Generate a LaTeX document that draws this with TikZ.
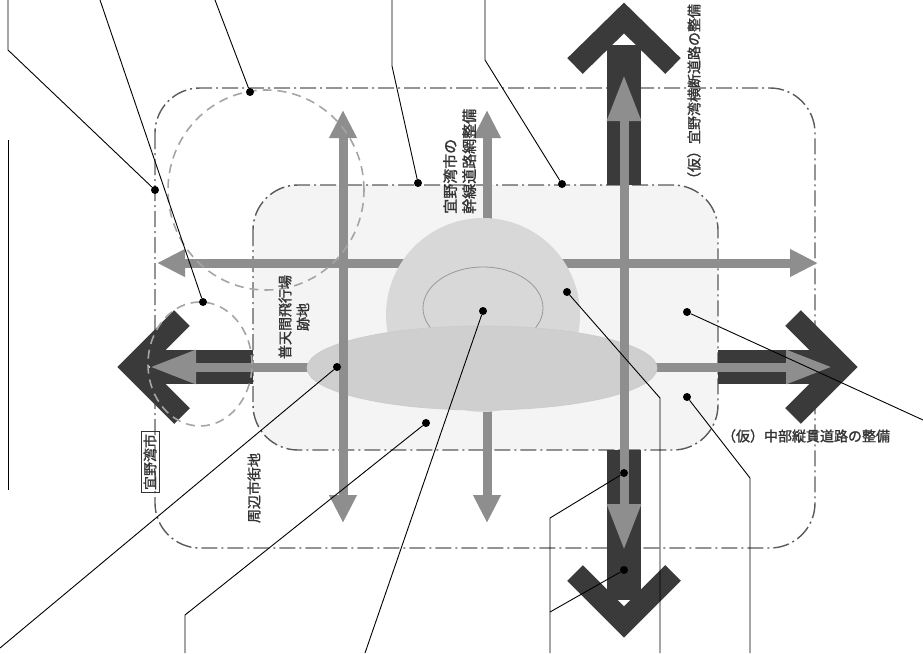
\documentclass[tikz,border=0pt]{standalone}
\usepackage{fontspec}
\newfontfamily\jpfont[FakeBold=1.5]{Noto Sans CJK JP}
\usetikzlibrary{arrows.meta}
\definecolor{darkarr}{HTML}{3A3A3A}
\definecolor{roadgray}{HTML}{8E8E8E}
\definecolor{blobgray}{HTML}{D8D8D8}
\definecolor{ellgray}{HTML}{CFCFCF}
\definecolor{rectline}{HTML}{5A5A5A}
\definecolor{dashgray}{HTML}{A5A5A5}
\definecolor{innerfill}{HTML}{F4F4F4}
\definecolor{txtgray}{HTML}{333333}
\tikzset{
  rrect/.style={draw=rectline, line width=1.4pt, dash pattern=on 16pt off 4pt on 2pt off 4pt, rounded corners=45pt},
  dcirc/.style={draw=dashgray, line width=1.6pt, dash pattern=on 9pt off 6pt},
  road/.style={draw=roadgray, line width=9pt},
  bigarr/.style={draw=darkarr, line width=34pt},
  chev/.style={draw=darkarr, line width=22pt, line join=miter},
  lead/.style={draw=black, line width=0.9pt},
  dot/.style={circle, fill=black, inner sep=0pt, minimum size=8pt},
  jtext/.style={text=txtgray, font=\jpfont\fontsize{14}{18}\selectfont, inner sep=0pt},
  sm/.tip={Triangle[width=26pt,length=28pt]},
  bg/.tip={Triangle[width=32pt,length=46pt]},
}
\begin{document}
\begin{tikzpicture}[x=1pt,y=-1pt]
\useasboundingbox (0,0) rectangle (923,653);
% areas
\fill[innerfill, rounded corners=45pt] (253,185) rectangle (718,450);
\draw[rrect] (155,88) rectangle (815,548);
\draw[rrect] (253,185) rectangle (718,450);
% dark arrows
\draw[bigarr] (624,185) -- (624,45);
\draw[chev] (575,66) -- (624,18) -- (673,66);
\draw[bigarr] (624,450) -- (624,600);
\draw[chev] (575,573) -- (624,622) -- (673,573);
\draw[bigarr] (253,367) -- (150,367);
\draw[chev] (182,318) -- (133,367) -- (182,416);
\draw[bigarr] (718,367) -- (825,367);
\draw[chev] (793,318) -- (842,367) -- (793,416);
% gray roads
\draw[road, sm-sm] (343,110) -- (343,523);
\draw[road, sm-sm] (487,110) -- (487,523);
\draw[road, bg-bg] (624,75) -- (624,550);
\draw[road, sm-sm] (157,263) -- (818,263);
\draw[road, bg-bg] (150,367) -- (832,367);
% central areas
\fill[blobgray] (483,315) circle[radius=97pt];
\draw[draw=gray!80, fill=blobgray, line width=0.8pt] (483,308) ellipse[x radius=60pt, y radius=41pt];
\draw[draw=gray!40, fill=ellgray, line width=0.8pt] (482,368) ellipse[x radius=175pt, y radius=42pt];
\draw[road] (343,335) -- (343,400);
\draw[road] (624,335) -- (624,400);
% dashed circles
\draw[dcirc] (266,190) ellipse[x radius=98pt, y radius=100pt];
\draw[dcirc] (200,364) ellipse[x radius=52pt, y radius=62pt];
% texts
\node[jtext, rotate=90, align=left, anchor=north west, font=\jpfont\fontsize{15}{19}\selectfont] (t1) at (443,214) {宜野湾市の\\幹線道路網整備};
\node[jtext, rotate=90, align=center] (t2) at (294,317) {普天間飛行場\\跡地};
\node[jtext, rotate=90] (t3) at (694,95) {（仮）宜野湾横断道路の整備};
\node[jtext] (t4) at (806,436) {（仮）中部縦貫道路の整備};
\node[jtext, rotate=90, draw=txtgray, line width=0.9pt, inner sep=2.5pt] (t5) at (150,462) {宜野湾市};
\node[jtext, rotate=90] (t6) at (254,488) {周辺市街地};
% dots
\node[dot] (d1) at (155,190) {};
\node[dot] (d2) at (203,302) {};
\node[dot] (d3) at (250,92) {};
\node[dot] (d4) at (418,183) {};
\node[dot] (d5) at (562,184) {};
\node[dot] (d6) at (337,367) {};
\node[dot] (d7) at (426,423) {};
\node[dot] (d8) at (483,311) {};
\node[dot] (d9) at (567,292) {};
\node[dot] (d10) at (624,473) {};
\node[dot] (d11) at (624,570) {};
\node[dot] (d12) at (687,397) {};
\node[dot] (d13) at (687,312) {};
% leader end points
\coordinate (e1a) at (8,0);   \coordinate (e1b) at (8,50);
\coordinate (e2) at (100,0);
\coordinate (e3) at (215,0);
\coordinate (e4a) at (392,0); \coordinate (e4b) at (392,66);
\coordinate (e5a) at (485,0); \coordinate (e5b) at (485,60);
\coordinate (e6) at (0,648);
\coordinate (e7a) at (185,653); \coordinate (e7b) at (185,615);
\coordinate (e8) at (365,653);
\coordinate (e9a) at (660,653); \coordinate (e9b) at (660,398);
\coordinate (e10a) at (550,653); \coordinate (e10b) at (550,518); \coordinate (e11) at (550,612);
\coordinate (e12a) at (750,653); \coordinate (e12b) at (750,478);
\coordinate (e13) at (923,420);
\coordinate (v1) at (8,140); \coordinate (v2) at (8,490);
% leaders
\draw[lead] (e1a) -- (e1b) -- (d1);
\draw[lead] (e2) -- (d2);
\draw[lead] (e3) -- (d3);
\draw[lead] (e4a) -- (e4b) -- (d4);
\draw[lead] (e5a) -- (e5b) -- (d5);
\draw[lead] (e6) -- (d6);
\draw[lead] (e7a) -- (e7b) -- (d7);
\draw[lead] (e8) -- (d8);
\draw[lead] (e9a) -- (e9b) -- (d9);
\draw[lead] (e10a) -- (e10b) -- (d10);
\draw[lead] (e11) -- (d11);
\draw[lead] (e12a) -- (e12b) -- (d12);
\draw[lead] (e13) -- (d13);
\draw[lead] (v1) -- (v2);
\end{tikzpicture}
\end{document}
